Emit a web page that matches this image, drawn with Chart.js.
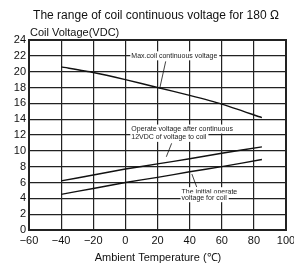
<!DOCTYPE html>
<html>
<head>
<meta charset="utf-8">
<script src="https://cdn.jsdelivr.net/npm/chart.js@4.4.0/dist/chart.umd.min.js"></script>
<style>
  html, body { margin: 0; padding: 0; background: #fff; }
  #wrap { width: 294px; height: 265px; }
</style>
</head>
<body>
<div id="wrap"><canvas id="coil"></canvas></div>
<script>
var temps = [-40, -20, 0, 20, 40, 60, 85];
var maxCoil = [20.6, 19.9, 19.0, 18.0, 17.0, 15.9, 14.2];
var operateAfter = [6.2, 6.95, 7.7, 8.35, 9.0, 9.7, 10.5];
var initialOperate = [4.5, 5.25, 6.0, 6.65, 7.35, 8.0, 8.9];

var xTicks = [-60, -40, -20, 0, 20, 40, 60, 80, 100];
var yTicks = [0, 2, 4, 6, 8, 10, 12, 14, 16, 18, 20, 22, 24];

// labels with leader lines, in data coords
var notes = [
    { lines: ['Max.coil continuous voltage'], x: 3.7, y: [22], from: [25.1, 21.3], to: [21.4, 17.9] },
    { lines: ['Operate voltage after continuous', '12VDC of voltage to coil'], x: 3.7, y: [12.75, 11.7], from: [28.8, 10.95], to: [25.5, 9.25] },
    { lines: ['The initial operate', 'voltage for coil'], x: 35, y: [4.84, 4.08], from: [44.4, 5.43], to: [41.4, 7.07] }
];

function pts(ys) {
    return temps.map(function(t, i) { return { x: t, y: ys[i] }; });
}

var decor = {
    id: 'decor',
    afterDraw: function(chart) {
        var ctx = chart.ctx;
        var a = chart.chartArea;
        var sx = chart.scales.x, sy = chart.scales.y;
        ctx.save();
        // frame
        ctx.strokeStyle = '#222';
        ctx.lineWidth = 2;
        ctx.strokeRect(a.left, a.top, a.right - a.left, a.bottom - a.top);

        // notes
        ctx.font = '7px "Liberation Sans", Arial, sans-serif';
        ctx.textBaseline = 'middle';
        ctx.textAlign = 'left';
        notes.forEach(function(n) {
            var left = sx.getPixelForValue(n.x);
            n.lines.forEach(function(s, i) {
                var py = sy.getPixelForValue(n.y[i]);
                var w = ctx.measureText(s).width;
                ctx.fillStyle = '#fff';
                ctx.fillRect(left - 1, py - 4.5, w + 3, 9);
                ctx.fillStyle = '#222';
                ctx.fillText(s, left, py);
            });
            ctx.strokeStyle = '#111';
            ctx.lineWidth = 0.8;
            ctx.beginPath();
            ctx.moveTo(sx.getPixelForValue(n.from[0]), sy.getPixelForValue(n.from[1]));
            ctx.lineTo(sx.getPixelForValue(n.to[0]), sy.getPixelForValue(n.to[1]));
            ctx.stroke();
        });

        // titles
        ctx.fillStyle = '#111';
        ctx.textAlign = 'center';
        ctx.font = '12px "Liberation Sans", Arial, sans-serif';
        ctx.fillText('The range of coil continuous voltage for 180 \u03A9', 156, 16);
        ctx.font = '11px "Liberation Sans", Arial, sans-serif';
        ctx.fillText('Ambient Temperature (\u2103)', 158, 258);
        ctx.textAlign = 'left';
        ctx.fillText('Coil Voltage(VDC)', 30, 33);
        ctx.restore();
    }
};

var lineStyle = { borderColor: '#111', borderWidth: 1.4, pointRadius: 0, fill: false, tension: 0.2 };

new Chart(document.getElementById('coil').getContext('2d'), {
    type: 'line',
    data: {
        datasets: [
            Object.assign({ label: 'Max.coil continuous voltage', data: pts(maxCoil) }, lineStyle),
            Object.assign({ label: 'Operate voltage after continuous 12VDC of voltage to coil', data: pts(operateAfter) }, lineStyle),
            Object.assign({ label: 'The initial operate voltage for coil', data: pts(initialOperate) }, lineStyle)
        ]
    },
    options: {
        responsive: true,
        maintainAspectRatio: false,
        animation: false,
        layout: { padding: { top: 40, right: 8, left: 0, bottom: 0 } },
        plugins: { legend: { display: false }, tooltip: { enabled: false } },
        scales: {
            x: {
                type: 'linear', min: -60, max: 100,
                afterBuildTicks: function(s) { s.ticks = xTicks.map(function(v) { return { value: v }; }); },
                afterFit: function(s) { s.height = 35; s.paddingLeft = 0; s.paddingRight = 0; },
                grid: { color: '#222', lineWidth: 1.2, drawTicks: false },
                border: { display: false },
                ticks: {
                    padding: 4, color: '#111', autoSkip: false, maxRotation: 0,
                    font: { family: '"Liberation Sans", Arial, sans-serif', size: 11 },
                    callback: function(v) { return v < 0 ? '\u2212' + Math.abs(v) : v; }
                }
            },
            y: {
                min: 0, max: 24,
                afterBuildTicks: function(s) { s.ticks = yTicks.map(function(v) { return { value: v }; }); },
                afterFit: function(s) { s.width = 29; s.paddingTop = 0; s.paddingBottom = 0; },
                grid: { color: '#222', lineWidth: 1.2, drawTicks: false },
                border: { display: false },
                ticks: {
                    padding: 3, color: '#111', autoSkip: false,
                    font: { family: '"Liberation Sans", Arial, sans-serif', size: 11 }
                }
            }
        }
    },
    plugins: [decor]
});
</script>
</body>
</html>
